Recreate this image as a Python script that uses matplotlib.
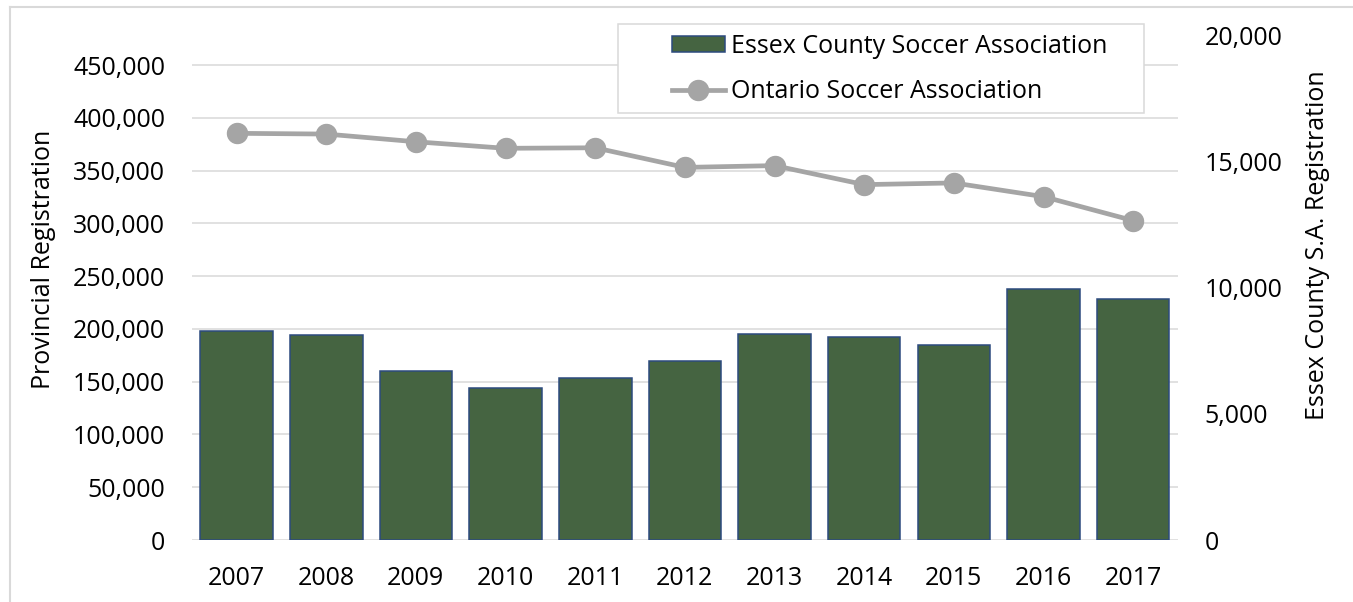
import matplotlib.pyplot as plt
from matplotlib.patches import Rectangle, Patch
from matplotlib.lines import Line2D
from matplotlib.ticker import FuncFormatter, MultipleLocator

plt.rcParams['font.family'] = ['Open Sans', 'DejaVu Sans']

# data
years = ['2007', '2008', '2009', '2010', '2011', '2012', '2013', '2014', '2015', '2016', '2017']
essex = [8310, 8120, 6690, 6020, 6440, 7090, 8180, 8040, 7740, 9960, 9550]
ontario = [385300, 384600, 377300, 371100, 371600, 353000, 354700, 336700, 338300, 325300, 302600]

W, H = 1353, 602
fig = plt.figure(figsize=(W / 100, H / 100), dpi=100)
ax = fig.add_axes([191.7 / W, 1 - 540 / H, (1178 - 191.7) / W, (540 - 36) / H])
ax2 = ax.twinx()

grid_c = '#D9D9D9'
fs = 18
x = list(range(len(years)))

# bars on the right axis
ax2.bar(x, essex, width=0.81, color='#456441', edgecolor='#2C4A7E', linewidth=1.1, zorder=2)
# line on the left axis
ax.plot(x, ontario, color='#A5A5A5', linewidth=3.4, marker='o', markersize=14.4, zorder=3)

ax.set_xlim(-0.5, len(years) - 0.5)
ax.set_ylim(0, 477500)
ax2.set_ylim(0, 20000)
ax.yaxis.set_major_locator(MultipleLocator(50000))
ax2.yaxis.set_major_locator(MultipleLocator(5000))
fmt = FuncFormatter(lambda v, p: f'{int(v):,}')
ax.yaxis.set_major_formatter(fmt)
ax2.yaxis.set_major_formatter(fmt)

ax.set_xticks(x)
ax.set_xticklabels(years)

ax.grid(axis='y', color=grid_c, linewidth=1.1)
ax.set_axisbelow(True)
for a in (ax, ax2):
    for s in a.spines.values():
        s.set_visible(False)
    a.tick_params(length=0, labelsize=fs, colors='#000000')
ax.tick_params(axis='y', pad=19)
ax.tick_params(axis='x', pad=19)
ax2.tick_params(axis='y', pad=19)
ax2.patch.set_visible(False)
ax.set_zorder(0)
ax2.set_zorder(1)

ax.set_ylabel('Provincial Registration', fontsize=fs)
ax2.set_ylabel('Essex County S.A. Registration', fontsize=fs, rotation=90)
ax.yaxis.set_label_coords(-0.1376, 0.5575)
ax2.yaxis.set_label_coords(1.1288, 0.585)

# legend frame and entries
fig.add_artist(Rectangle((618 / W, 1 - 113 / H), (1144 - 618) / W, (113 - 24) / H,
                         transform=fig.transFigure, facecolor='white', edgecolor=grid_c,
                         linewidth=1.1, zorder=5))
handles = [Patch(facecolor='#456441', edgecolor='#2C4A7E', linewidth=1.1),
           Line2D([], [], color='#A5A5A5', linewidth=3.4, marker='o', markersize=14.4)]
labels = ['Essex County Soccer Association', 'Ontario Soccer Association']
leg = fig.legend(handles, labels, loc='upper left', bbox_to_anchor=(672 / W, 1 - 34 / H),
                 frameon=False, fontsize=fs, borderpad=0, borderaxespad=0,
                 handlelength=2.1, handleheight=0.64, handletextpad=0.25, labelspacing=0.82)
leg.set_zorder(6)

# outer chart border (partly cropped)
fig.add_artist(Line2D([10 / W, 10 / W], [0, 1 - 7 / H], transform=fig.transFigure,
                      color=grid_c, linewidth=1.5))
fig.add_artist(Line2D([10 / W, 1], [1 - 7 / H, 1 - 7 / H], transform=fig.transFigure,
                      color=grid_c, linewidth=1.5))

fig.savefig('out.png', dpi=100)
